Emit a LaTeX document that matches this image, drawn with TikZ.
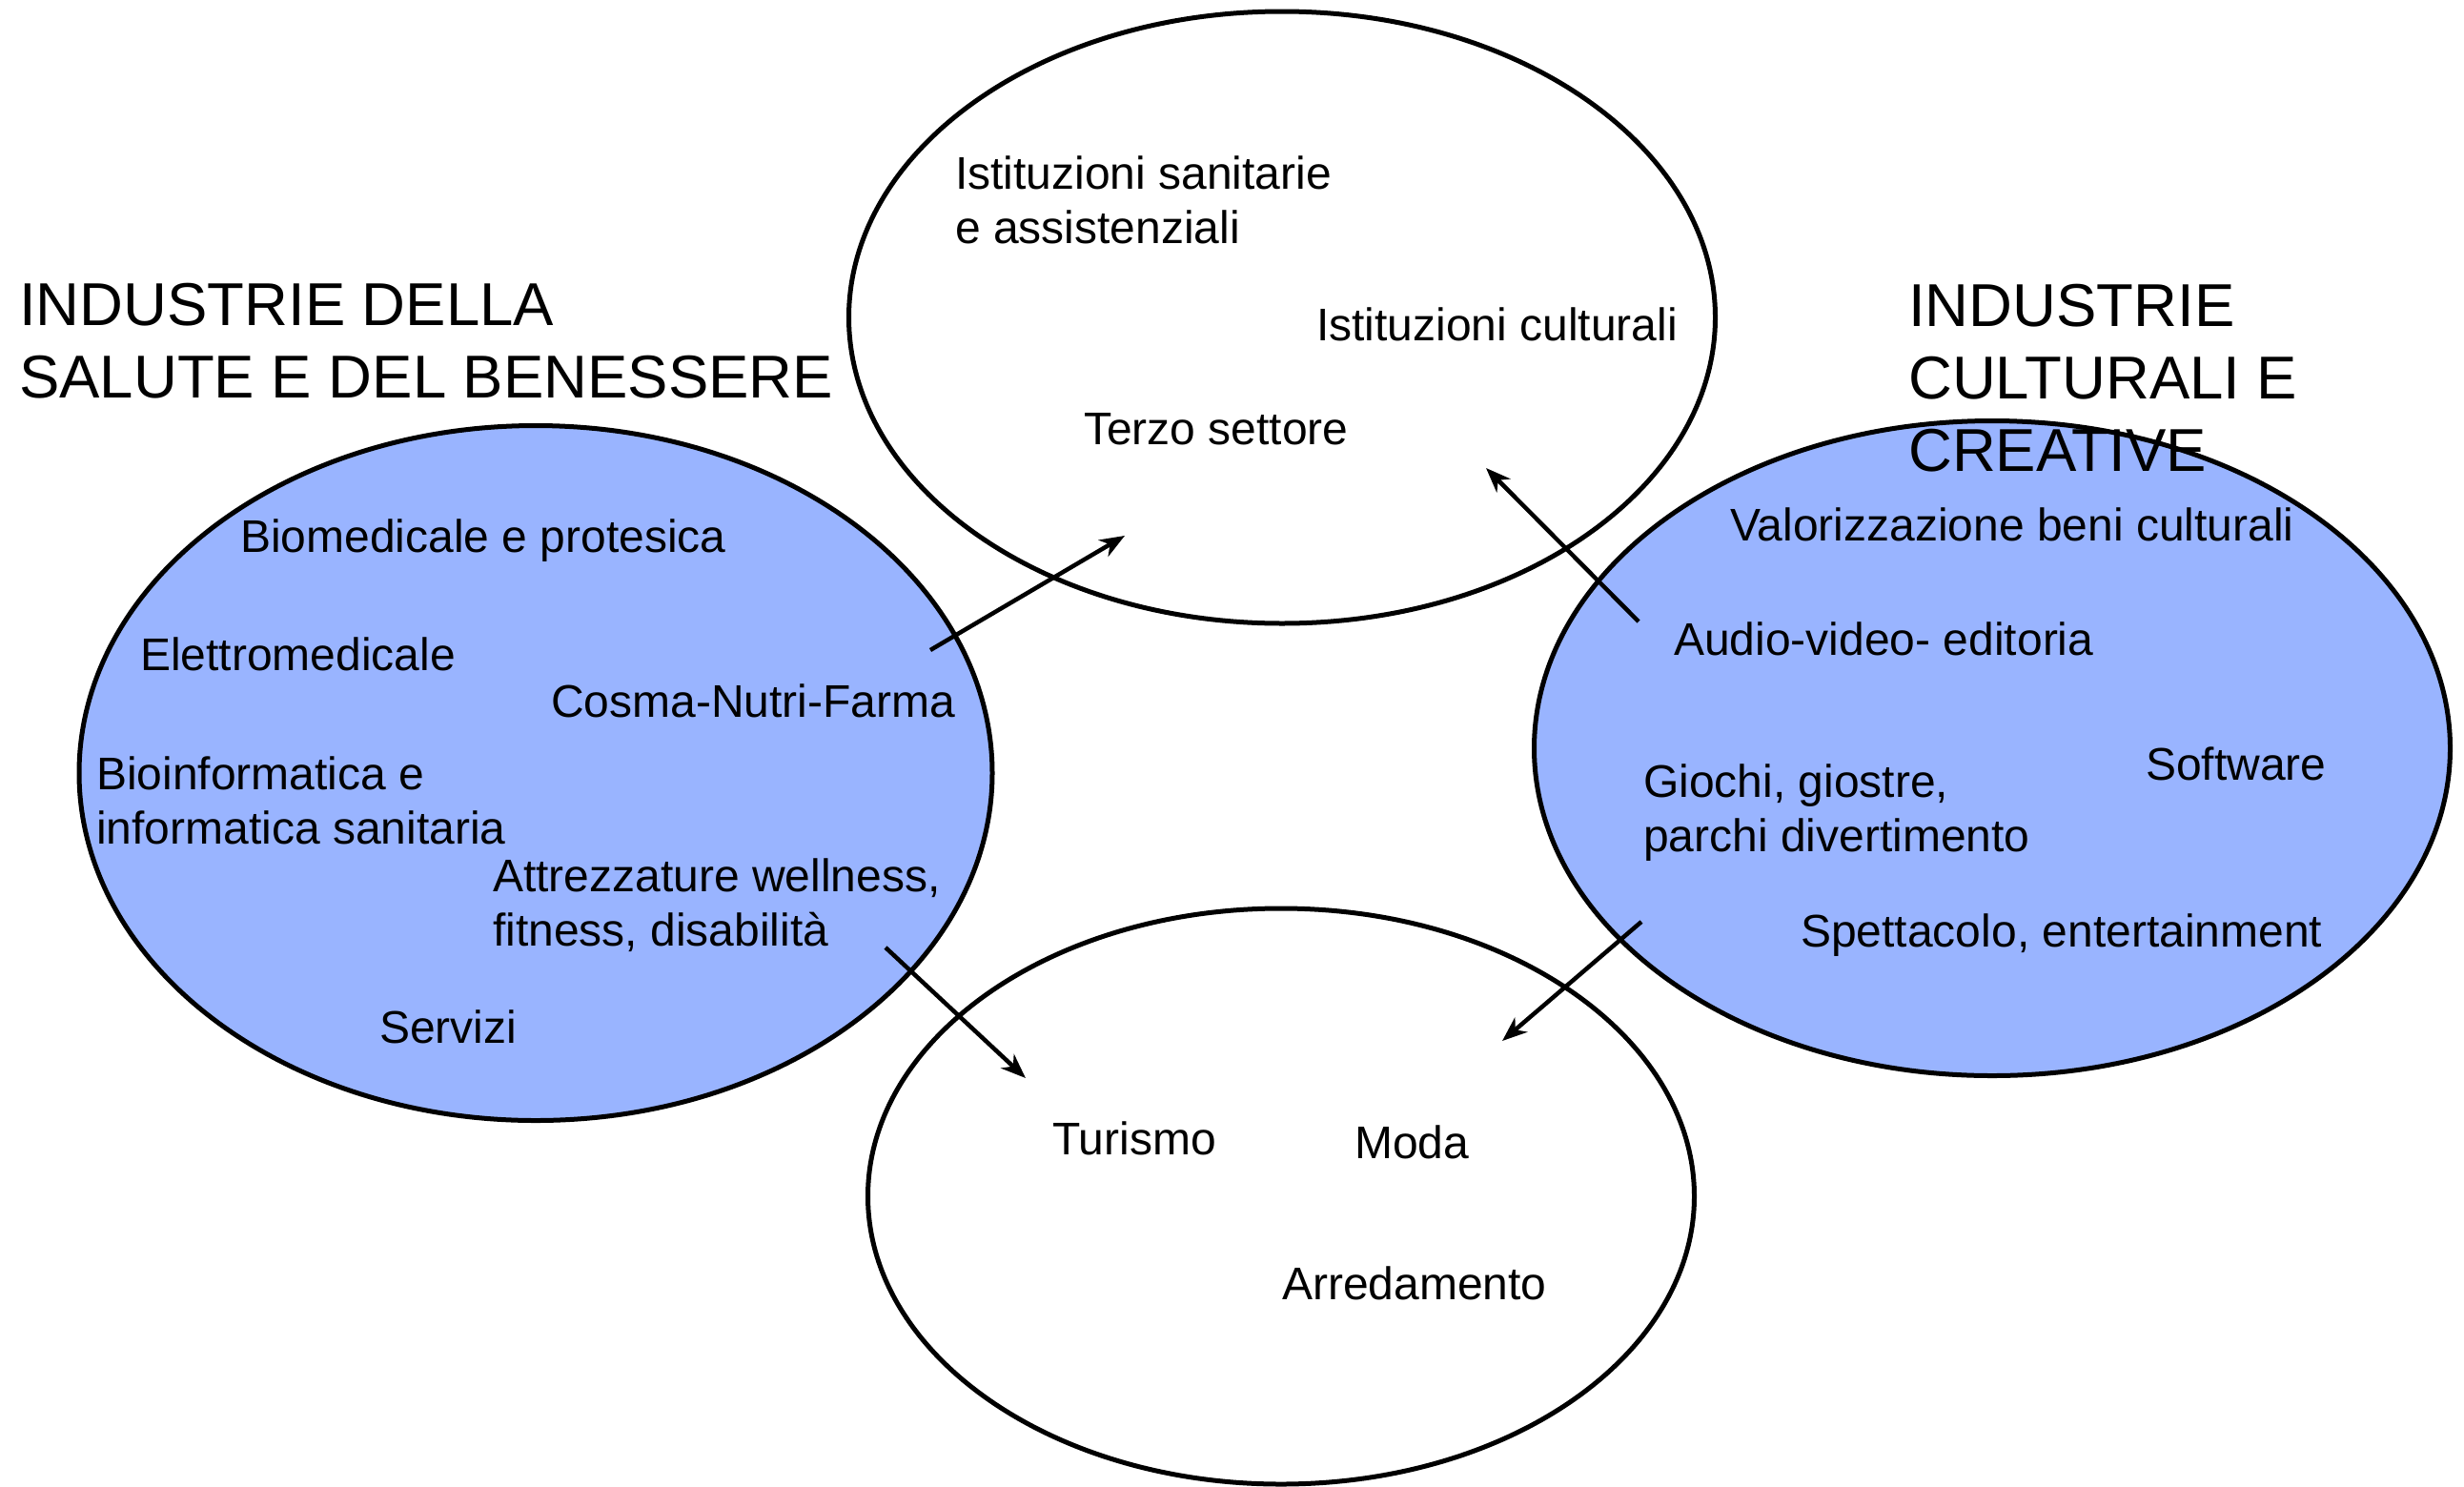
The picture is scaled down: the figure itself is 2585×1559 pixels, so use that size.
\documentclass[tikz,border=0pt]{standalone}
\usepackage{fontspec}
\setmainfont{Liberation Sans}
\usetikzlibrary{shapes.geometric,arrows.meta}
\definecolor{setblue}{RGB}{153,180,255}
\tikzset{
  setellipse/.style={ellipse, draw=black, line width=5pt, inner sep=0pt},
  label48/.style={anchor=base west, inner sep=0pt, align=left,
    font=\fontsize{48}{57}\selectfont},
  title62/.style={anchor=base west, inner sep=0pt, align=left,
    font=\fontsize{63.5}{76}\selectfont},
  link/.style={line width=4.5pt, -{Stealth[length=26pt,width=20pt,inset=8pt]}}
}
\begin{document}
\begin{tikzpicture}[x=1pt,y=-1pt]
\useasboundingbox (0,0) rectangle (2585,1559);
% ellipses
\node[setellipse, minimum width=909pt, minimum height=642pt] (top) at (1345,333) {};
\node[setellipse, fill=setblue, minimum width=958pt, minimum height=729pt] (left) at (562,811) {};
\node[setellipse, fill=setblue, minimum width=961pt, minimum height=687pt] (right) at (2090,785) {};
\node[setellipse, minimum width=867pt, minimum height=604pt] (bottom) at (1344,1255) {};
% titles (base anchor = last line)
\node[title62] (tleft) at (20,417) {INDUSTRIE DELLA\\SALUTE E DEL BENESSERE};
\node[title62] (tright) at (2002,494) {INDUSTRIE\\CULTURALI E\\CREATIVE};
% top ellipse
\node[label48] (istsan) at (1002,255) {Istituzioni sanitarie\\e assistenziali};
\node[label48] (istcul) at (1381,357) {Istituzioni culturali};
\node[label48] (terzo) at (1137,466) {Terzo settore};
% left ellipse
\node[label48] (biomed) at (252,579) {Biomedicale e protesica};
\node[label48] (elettro) at (147,703) {Elettromedicale};
\node[label48] (cosma) at (578,752) {Cosma-Nutri-Farma};
\node[label48] (bioinf) at (101,885) {Bioinformatica e\\informatica sanitaria};
\node[label48] (attrez) at (517,992) {Attrezzature wellness,\\fitness, disabilità};
\node[label48] (servizi) at (398,1094) {Servizi};
% right ellipse
\node[label48] (valor) at (1815,567) {Valorizzazione beni culturali};
\node[label48] (audio) at (1756,687) {Audio-video- editoria};
\node[label48] (giochi) at (1724,893) {Giochi, giostre,\\parchi divertimento};
\node[label48] (soft) at (2251,818) {Software};
\node[label48] (spett) at (1889,993) {Spettacolo, entertainment};
% bottom ellipse
\node[label48] (turismo) at (1104,1211) {Turismo};
\node[label48] (moda) at (1421,1215) {Moda};
\node[label48] (arred) at (1345,1363) {Arredamento};
% arrow ends
\coordinate (a1s) at (976,682);
\coordinate (a1e) at (1180,562);
\coordinate (a2s) at (1719,652);
\coordinate (a2e) at (1559,491);
\coordinate (a3s) at (929,994);
\coordinate (a3e) at (1076,1131);
\coordinate (a4s) at (1722,967);
\coordinate (a4e) at (1576,1092);
\draw[link] (a1s) -- (a1e);
\draw[link] (a2s) -- (a2e);
\draw[link] (a3s) -- (a3e);
\draw[link] (a4s) -- (a4e);
\end{tikzpicture}
\end{document}
